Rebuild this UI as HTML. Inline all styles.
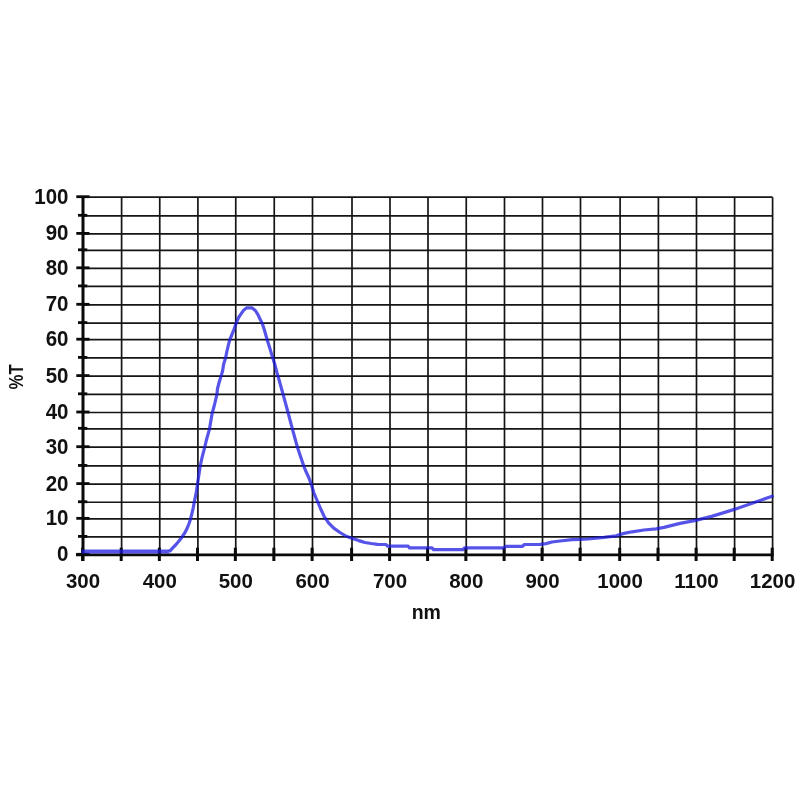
<!DOCTYPE html>
<html><head><meta charset="utf-8"><title>Transmission chart</title>
<style>
html,body{margin:0;padding:0;background:#fff;}
body{width:800px;height:800px;overflow:hidden;}
svg{display:block;}
text{font-family:"Liberation Sans",Arial,sans-serif;font-weight:bold;font-size:20.5px;fill:#111;}
</style></head><body>
<svg width="800" height="800" viewBox="0 0 800 800">
<rect width="800" height="800" fill="#ffffff"/>
<g>
<line x1="83" y1="197.2" x2="772.6" y2="197.2" stroke="#151515" stroke-width="1.7"/>
<line x1="83" y1="215.8" x2="772.6" y2="215.8" stroke="#151515" stroke-width="1.7"/>
<line x1="83" y1="233.9" x2="772.6" y2="233.9" stroke="#151515" stroke-width="1.7"/>
<line x1="83" y1="250.3" x2="772.6" y2="250.3" stroke="#151515" stroke-width="1.7"/>
<line x1="83" y1="268.3" x2="772.6" y2="268.3" stroke="#151515" stroke-width="1.7"/>
<line x1="83" y1="286.4" x2="772.6" y2="286.4" stroke="#151515" stroke-width="1.7"/>
<line x1="83" y1="304.8" x2="772.6" y2="304.8" stroke="#151515" stroke-width="1.7"/>
<line x1="83" y1="323.1" x2="772.6" y2="323.1" stroke="#151515" stroke-width="1.7"/>
<line x1="83" y1="339.7" x2="772.6" y2="339.7" stroke="#151515" stroke-width="1.7"/>
<line x1="83" y1="357.9" x2="772.6" y2="357.9" stroke="#151515" stroke-width="1.7"/>
<line x1="83" y1="376.1" x2="772.6" y2="376.1" stroke="#151515" stroke-width="1.7"/>
<line x1="83" y1="394.3" x2="772.6" y2="394.3" stroke="#151515" stroke-width="1.7"/>
<line x1="83" y1="412.5" x2="772.6" y2="412.5" stroke="#151515" stroke-width="1.7"/>
<line x1="83" y1="428.8" x2="772.6" y2="428.8" stroke="#151515" stroke-width="1.7"/>
<line x1="83" y1="447.2" x2="772.6" y2="447.2" stroke="#151515" stroke-width="1.7"/>
<line x1="83" y1="465.95" x2="772.6" y2="465.95" stroke="#151515" stroke-width="1.7"/>
<line x1="83" y1="484.1" x2="772.6" y2="484.1" stroke="#151515" stroke-width="1.7"/>
<line x1="83" y1="502.25" x2="772.6" y2="502.25" stroke="#151515" stroke-width="1.7"/>
<line x1="83" y1="518.85" x2="772.6" y2="518.85" stroke="#151515" stroke-width="1.7"/>
<line x1="83" y1="536.9" x2="772.6" y2="536.9" stroke="#151515" stroke-width="1.7"/>
<line x1="121.6" y1="197.2" x2="121.6" y2="554.8" stroke="#151515" stroke-width="1.7"/>
<line x1="159.75" y1="197.2" x2="159.75" y2="554.8" stroke="#151515" stroke-width="1.7"/>
<line x1="197.9" y1="197.2" x2="197.9" y2="554.8" stroke="#151515" stroke-width="1.7"/>
<line x1="235.75" y1="197.2" x2="235.75" y2="554.8" stroke="#151515" stroke-width="1.7"/>
<line x1="274.25" y1="197.2" x2="274.25" y2="554.8" stroke="#151515" stroke-width="1.7"/>
<line x1="312.5" y1="197.2" x2="312.5" y2="554.8" stroke="#151515" stroke-width="1.7"/>
<line x1="352.0" y1="197.2" x2="352.0" y2="554.8" stroke="#151515" stroke-width="1.7"/>
<line x1="390" y1="197.2" x2="390" y2="554.8" stroke="#151515" stroke-width="1.7"/>
<line x1="428" y1="197.2" x2="428" y2="554.8" stroke="#151515" stroke-width="1.7"/>
<line x1="466.25" y1="197.2" x2="466.25" y2="554.8" stroke="#151515" stroke-width="1.7"/>
<line x1="504.5" y1="197.2" x2="504.5" y2="554.8" stroke="#151515" stroke-width="1.7"/>
<line x1="542.5" y1="197.2" x2="542.5" y2="554.8" stroke="#151515" stroke-width="1.7"/>
<line x1="580.5" y1="197.2" x2="580.5" y2="554.8" stroke="#151515" stroke-width="1.7"/>
<line x1="620.1" y1="197.2" x2="620.1" y2="554.8" stroke="#151515" stroke-width="1.7"/>
<line x1="658.4" y1="197.2" x2="658.4" y2="554.8" stroke="#151515" stroke-width="1.7"/>
<line x1="696.5" y1="197.2" x2="696.5" y2="554.8" stroke="#151515" stroke-width="1.7"/>
<line x1="734.6" y1="197.2" x2="734.6" y2="554.8" stroke="#151515" stroke-width="1.7"/>
<line x1="772.6" y1="197.2" x2="772.6" y2="554.8" stroke="#151515" stroke-width="1.7"/>
<line x1="83" y1="195.89999999999998" x2="83" y2="561.0" stroke="#0a0a0a" stroke-width="3.0"/>
<line x1="76" y1="554.8" x2="773.6" y2="554.8" stroke="#0a0a0a" stroke-width="2.8"/>
<line x1="76.3" y1="196.7" x2="89.5" y2="196.7" stroke="#0a0a0a" stroke-width="2.8"/>
<line x1="78" y1="215.3" x2="87.3" y2="215.3" stroke="#0a0a0a" stroke-width="2.8"/>
<line x1="76.3" y1="233.4" x2="89.5" y2="233.4" stroke="#0a0a0a" stroke-width="2.8"/>
<line x1="78" y1="249.8" x2="87.3" y2="249.8" stroke="#0a0a0a" stroke-width="2.8"/>
<line x1="76.3" y1="267.8" x2="89.5" y2="267.8" stroke="#0a0a0a" stroke-width="2.8"/>
<line x1="78" y1="285.9" x2="87.3" y2="285.9" stroke="#0a0a0a" stroke-width="2.8"/>
<line x1="76.3" y1="304.3" x2="89.5" y2="304.3" stroke="#0a0a0a" stroke-width="2.8"/>
<line x1="78" y1="322.6" x2="87.3" y2="322.6" stroke="#0a0a0a" stroke-width="2.8"/>
<line x1="76.3" y1="339.2" x2="89.5" y2="339.2" stroke="#0a0a0a" stroke-width="2.8"/>
<line x1="78" y1="357.4" x2="87.3" y2="357.4" stroke="#0a0a0a" stroke-width="2.8"/>
<line x1="76.3" y1="375.6" x2="89.5" y2="375.6" stroke="#0a0a0a" stroke-width="2.8"/>
<line x1="78" y1="393.8" x2="87.3" y2="393.8" stroke="#0a0a0a" stroke-width="2.8"/>
<line x1="76.3" y1="412.0" x2="89.5" y2="412.0" stroke="#0a0a0a" stroke-width="2.8"/>
<line x1="78" y1="428.3" x2="87.3" y2="428.3" stroke="#0a0a0a" stroke-width="2.8"/>
<line x1="76.3" y1="446.7" x2="89.5" y2="446.7" stroke="#0a0a0a" stroke-width="2.8"/>
<line x1="78" y1="465.45" x2="87.3" y2="465.45" stroke="#0a0a0a" stroke-width="2.8"/>
<line x1="76.3" y1="483.6" x2="89.5" y2="483.6" stroke="#0a0a0a" stroke-width="2.8"/>
<line x1="78" y1="501.75" x2="87.3" y2="501.75" stroke="#0a0a0a" stroke-width="2.8"/>
<line x1="76.3" y1="518.35" x2="89.5" y2="518.35" stroke="#0a0a0a" stroke-width="2.8"/>
<line x1="78" y1="536.4" x2="87.3" y2="536.4" stroke="#0a0a0a" stroke-width="2.8"/>
<line x1="76.3" y1="554.3" x2="89.5" y2="554.3" stroke="#0a0a0a" stroke-width="2.8"/>
<line x1="82.6" y1="547.6999999999999" x2="82.6" y2="561.0" stroke="#0a0a0a" stroke-width="3.0"/>
<line x1="121.19999999999999" y1="547.6999999999999" x2="121.19999999999999" y2="561.0" stroke="#0a0a0a" stroke-width="3.0"/>
<line x1="159.35" y1="547.6999999999999" x2="159.35" y2="561.0" stroke="#0a0a0a" stroke-width="3.0"/>
<line x1="197.5" y1="547.6999999999999" x2="197.5" y2="561.0" stroke="#0a0a0a" stroke-width="3.0"/>
<line x1="235.35" y1="547.6999999999999" x2="235.35" y2="561.0" stroke="#0a0a0a" stroke-width="3.0"/>
<line x1="273.85" y1="547.6999999999999" x2="273.85" y2="561.0" stroke="#0a0a0a" stroke-width="3.0"/>
<line x1="312.1" y1="547.6999999999999" x2="312.1" y2="561.0" stroke="#0a0a0a" stroke-width="3.0"/>
<line x1="351.6" y1="547.6999999999999" x2="351.6" y2="561.0" stroke="#0a0a0a" stroke-width="3.0"/>
<line x1="389.6" y1="547.6999999999999" x2="389.6" y2="561.0" stroke="#0a0a0a" stroke-width="3.0"/>
<line x1="427.6" y1="547.6999999999999" x2="427.6" y2="561.0" stroke="#0a0a0a" stroke-width="3.0"/>
<line x1="465.85" y1="547.6999999999999" x2="465.85" y2="561.0" stroke="#0a0a0a" stroke-width="3.0"/>
<line x1="504.1" y1="547.6999999999999" x2="504.1" y2="561.0" stroke="#0a0a0a" stroke-width="3.0"/>
<line x1="542.1" y1="547.6999999999999" x2="542.1" y2="561.0" stroke="#0a0a0a" stroke-width="3.0"/>
<line x1="580.1" y1="547.6999999999999" x2="580.1" y2="561.0" stroke="#0a0a0a" stroke-width="3.0"/>
<line x1="619.7" y1="547.6999999999999" x2="619.7" y2="561.0" stroke="#0a0a0a" stroke-width="3.0"/>
<line x1="658.0" y1="547.6999999999999" x2="658.0" y2="561.0" stroke="#0a0a0a" stroke-width="3.0"/>
<line x1="696.1" y1="547.6999999999999" x2="696.1" y2="561.0" stroke="#0a0a0a" stroke-width="3.0"/>
<line x1="734.2" y1="547.6999999999999" x2="734.2" y2="561.0" stroke="#0a0a0a" stroke-width="3.0"/>
<line x1="772.2" y1="547.6999999999999" x2="772.2" y2="561.0" stroke="#0a0a0a" stroke-width="3.0"/>
<polyline points="169.4,551.6 172.5,548.1 175.6,545 178.75,541.25 181.9,537.2 185,532.5 187.5,527.5 189.4,522.5 190.6,518.75 191.7,514.4 193.2,508 194.3,502 196.1,493.4 197.5,483.9 198.9,474.7 200.3,465.5 202.2,456.9 204.7,447.4 206.4,440 209.4,429.4 212.2,413.1 214.1,406.25 215.6,400 216.9,394.7 217.5,388.75 219.1,382.5 220.9,376.6 222.5,371.25 223.75,363.75 225.6,358 226.9,351.25 228.4,345 229.7,339.9 231.25,336.25 233.75,330 236.25,323.1 237.5,320 238.6,317.5 240.9,314.1 243.5,310.4 246.5,307.85 252.1,307.85 255.5,310.75 258.1,314.9 260,319 262.25,323.5 264.4,330 267.2,339.9 270,348.75 272.8,358.1 275,365 276.9,372.5 278.1,376.6 279.1,380 283.1,394.4 288.1,412.75 292.5,429.4 297.5,447.5 303.75,465.9 305.3,470 308.75,477.5 311.5,485 313.75,492.5 316.9,500 320.6,508.75 324.4,516.9 328.75,523.1 333.75,528.1 340,532.5 346.25,536.25 352.5,538.5 358.75,540.6 365,542.5 371.25,543.5 377.5,544.3 386,544.5 387.5,546.1 408,546.1 409.5,547.9 432,547.9 433.5,549.6 463,549.6 464.5,547.9 504,547.9 505.5,546.3 522.5,546.3 524.5,544.5 540,544.4 546,543.6 552,542 560,541 572,539.6 580,539.4 588,539 604,537.4 616,535.8 624,533.4 632,531.8 644,530 656,528.8 664,527.4 672,525.4 680,523.4 695.75,520.4 712.5,516.15 735,509.15 755,502.15 773.6,495.8" fill="none" stroke="#1e1be0" stroke-opacity="0.75" stroke-width="3.2" stroke-linejoin="round" stroke-linecap="butt"/>
<line x1="81.6" y1="551.6" x2="169.4" y2="551.6" stroke="#1e1be0" stroke-width="4" stroke-opacity="0.75"/>
</g>
<g>
<text transform="translate(68.5,561.20) scale(1,1.04)" text-anchor="end">0</text>
<text transform="translate(68.5,525.25) scale(1,1.04)" text-anchor="end">10</text>
<text transform="translate(68.5,490.50) scale(1,1.04)" text-anchor="end">20</text>
<text transform="translate(68.5,453.60) scale(1,1.04)" text-anchor="end">30</text>
<text transform="translate(68.5,418.90) scale(1,1.04)" text-anchor="end">40</text>
<text transform="translate(68.5,382.50) scale(1,1.04)" text-anchor="end">50</text>
<text transform="translate(68.5,346.10) scale(1,1.04)" text-anchor="end">60</text>
<text transform="translate(68.5,311.20) scale(1,1.04)" text-anchor="end">70</text>
<text transform="translate(68.5,274.70) scale(1,1.04)" text-anchor="end">80</text>
<text transform="translate(68.5,240.30) scale(1,1.04)" text-anchor="end">90</text>
<text transform="translate(68.5,203.60) scale(1,1.04)" text-anchor="end">100</text>
<text transform="translate(83,587.6) scale(1,1.03)" text-anchor="middle">300</text>
<text transform="translate(159.75,587.6) scale(1,1.03)" text-anchor="middle">400</text>
<text transform="translate(235.75,587.6) scale(1,1.03)" text-anchor="middle">500</text>
<text transform="translate(312.5,587.6) scale(1,1.03)" text-anchor="middle">600</text>
<text transform="translate(390,587.6) scale(1,1.03)" text-anchor="middle">700</text>
<text transform="translate(466.25,587.6) scale(1,1.03)" text-anchor="middle">800</text>
<text transform="translate(542.5,587.6) scale(1,1.03)" text-anchor="middle">900</text>
<text transform="translate(620.1,587.6) scale(1,1.03)" text-anchor="middle">1000</text>
<text transform="translate(696.5,587.6) scale(1,1.03)" text-anchor="middle">1100</text>
<text transform="translate(772.6,587.6) scale(1,1.03)" text-anchor="middle">1200</text>
<text x="426.3" y="619.2" text-anchor="middle" style="font-size:19.5px">nm</text>
<text transform="translate(23.4,376.8) rotate(-90) scale(0.82,1)" text-anchor="middle">%T</text>
</g>
</svg>
</body></html>
